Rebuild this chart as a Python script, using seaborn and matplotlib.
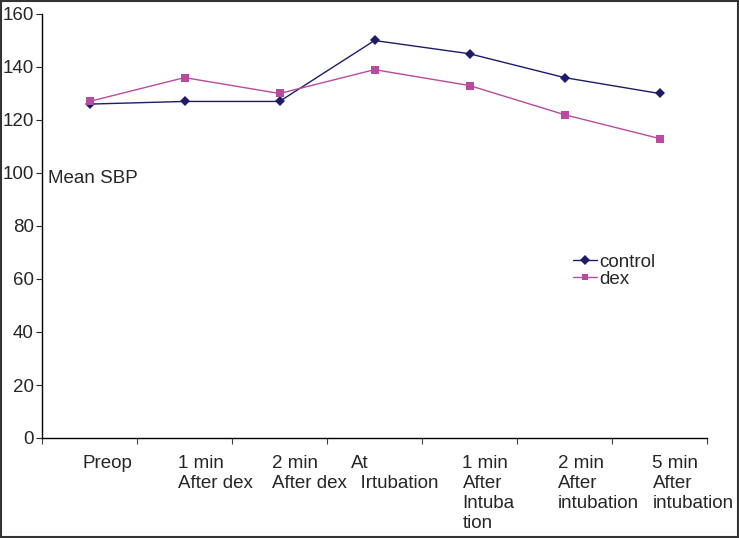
import matplotlib.pyplot as plt
import matplotlib.transforms as mtransforms
import numpy as np
import pandas as pd
import seaborn as sns

# data
stages = ["Preop", "1 min\nAfter dex", "2 min\nAfter dex", "At\n  Irtubation",
          "1 min\nAfter\nIntuba\ntion", "2 min\nAfter\nintubation",
          "5 min\nAfter\nintubation"]
control = [126, 127, 127, 150, 145, 136, 130]
dex = [127, 136, 130, 139, 133, 122, 113]
y_ticks = [0, 20, 40, 60, 80, 100, 120, 140, 160]

df = pd.DataFrame({
    "stage": stages * 2,
    "sbp": control + dex,
    "group": ["control"] * len(stages) + ["dex"] * len(stages),
})

sns.set_style("white")
plt.rcParams["font.family"] = ["Liberation Sans", "DejaVu Sans"]

fig = plt.figure(figsize=(7.39, 5.38), dpi=100)
ax = fig.add_axes([42 / 739, 1 - 438 / 538, 665 / 739, 424 / 538])

sns.lineplot(
    data=df, x="stage", y="sbp", hue="group", style="group", ax=ax,
    palette={"control": "#1c1c6b", "dex": "#b94a9f"},
    markers={"control": "D", "dex": "s"}, dashes=False,
    markersize=5.5, markeredgewidth=0, linewidth=1, sort=False,
)

ax.set_ylim(0, 160)
ax.set_yticks(y_ticks)
ax.set_xlim(-0.5, len(stages) - 0.5)
ax.set_xticks(np.arange(len(stages) + 1) - 0.5)
ax.set_xticklabels([])
ax.set_xticks(np.arange(len(stages)), minor=True)
ax.set_xticklabels(stages, minor=True, ha="left", va="top", linespacing=1.25)
ax.tick_params(axis="x", which="minor", length=0, pad=12, labelsize=13.5)
ax.tick_params(axis="x", which="major", length=4, width=0.8, direction="out",
               bottom=True, colors="#404040")
ax.tick_params(axis="y", length=4, width=0.8, direction="out", left=True,
               labelsize=13.5, pad=2)
for i, lab in enumerate(ax.get_xticklabels(minor=True)):
    shift = -24 if i == 3 else -7
    lab.set_transform(lab.get_transform() +
                      mtransforms.ScaledTranslation(shift / 100, 0, fig.dpi_scale_trans))
ax.set_xlabel("")
ax.set_ylabel("")
sns.despine(ax=ax)
for s in ["left", "bottom"]:
    ax.spines[s].set_color("black")
    ax.spines[s].set_linewidth(1)

ax.text(0.009, 98, "Mean SBP", transform=ax.get_yaxis_transform(),
        fontsize=13.5, va="center", ha="left")

handles, labels = ax.get_legend_handles_labels()
for h in handles:
    h.set_markersize(5)
ax.legend(handles, labels, loc="upper left", frameon=False,
          bbox_to_anchor=(565 / 739, 1 - 246 / 538),
          bbox_transform=fig.transFigure, fontsize=13.5, handlelength=1.3,
          handletextpad=0.15, labelspacing=0.0, borderaxespad=0)

fig.patches.append(plt.Rectangle((0.001, 0.001), 0.998, 0.997, transform=fig.transFigure,
                                 fill=False, edgecolor="#333333", linewidth=1.5))
fig.savefig("out.png", dpi=100)
